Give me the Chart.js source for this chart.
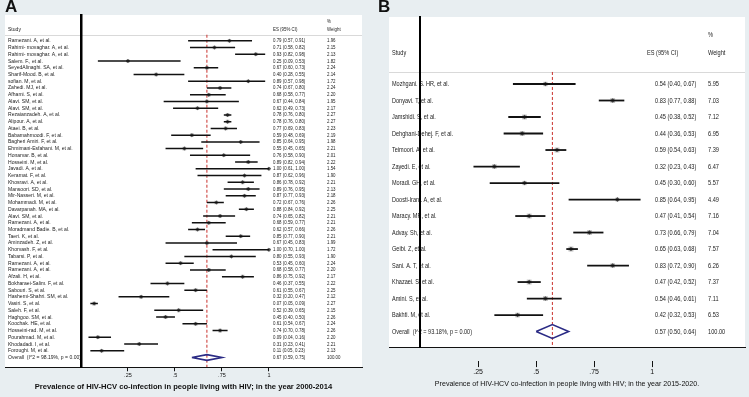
<!DOCTYPE html>
<html>
<head>
<meta charset="utf-8">
<script src="https://cdn.jsdelivr.net/npm/chart.js@4.4.1/dist/chart.umd.min.js"></script>
<style>
  html, body { margin: 0; padding: 0; background: #e8eef1; }
  body { width: 749px; height: 397px; position: relative; overflow: hidden; font-family: "Liberation Sans", Arial, sans-serif; }
  canvas { position: absolute; top: 0; }
  .letter { position: absolute; top: -3px; font-size: 17px; font-weight: bold; color: #111; z-index: 2; }
</style>
</head>
<body>
<canvas id="chartA" width="375" height="397" style="left:0"></canvas>
<canvas id="chartB" width="374" height="397" style="left:375px"></canvas>
<div class="letter" style="left:5px">A</div>
<div class="letter" style="left:378px">B</div>
<script>
// --- DATA: panel A, 2000-2014 ---
const studiesA = [
  "Ramezani. A, et al.", "Rahimi- movaghar. A, et al.", "Rahimi- movaghar. A, et al.", "Salem. F., et al.",
  "SeyedAlinaghi. SA, et al.", "Sharif-Mood. B, et al.", "sofian. M, et al.", "Zahedi. MJ, et al.",
  "Afhami. S, et al.", "Alavi. SM, et al.", "Alavi. SM, et al.", "Rezaianzadeh. A, et al.",
  "Alipour. A, et al.", "Ataei. B, et al.", "Babamahmoodi. F, et al.", "Bagheri Amiri. F, et al.",
  "Ehmimani-Esfahani. M, et al.", "Honarvar. B, et al.", "Hosseini. M, et al.", "Javadi. A, et al.",
  "Keramat. F, et al.", "Khosravi. A, et al.", "Mansoori. SD, et al.", "Mir-Nasseri. M, et al.",
  "Mohammadi. M, et al.", "Davarpanah. MA, et al.", "Alavi. SM, et al.", "Ramezani. A, et al.",
  "Moradmand Badie. B, et al.", "Taeri. K, et al.", "Aminzadeh. Z, et al.", "Khorvash. F, et al.",
  "Tabarsi. P, et al.", "Ramezani. A, et al.", "Ramezani. A, et al.", "Afzali. H, et al.",
  "Bokharaei-Salim. F, et al.", "Sabouri. S, et al.", "Hashemi-Shahri. SM, et al.", "Vasiri. S, et al.",
  "Saleh. F, et al.", "Haghgoo. SM, et al.", "Koochak. HE, et al.", "Hosseini-rad. M, et al.",
  "Pourahmad. M, et al.", "Khodadadi. I, et al.", "Foroughi. M, et al."
];
const esA = [0.79,0.71,0.93,0.25,0.67,0.40,0.89,0.74,0.68,0.67,0.62,0.78,0.78,0.77,0.59,0.85,0.55,0.76,0.89,1.00,
  0.87,0.86,0.89,0.87,0.72,0.88,0.74,0.68,0.62,0.85,0.67,1.00,0.80,0.53,0.68,0.86,0.46,0.61,0.32,0.07,
  0.52,0.45,0.61,0.74,0.09,0.31,0.11];
const loA = [0.57,0.58,0.82,0.09,0.60,0.28,0.57,0.67,0.58,0.44,0.49,0.76,0.76,0.69,0.48,0.64,0.45,0.58,0.82,0.61,
  0.62,0.78,0.76,0.77,0.67,0.84,0.65,0.59,0.57,0.77,0.45,0.70,0.55,0.45,0.58,0.75,0.37,0.55,0.20,0.05,
  0.39,0.40,0.54,0.70,0.04,0.23,0.05];
const hiA = [0.91,0.82,0.98,0.53,0.73,0.55,0.98,0.80,0.77,0.84,0.73,0.80,0.80,0.83,0.69,0.95,0.65,0.90,0.94,1.00,
  0.96,0.92,0.95,0.93,0.76,0.92,0.82,0.77,0.66,0.90,0.83,1.00,0.93,0.60,0.77,0.92,0.55,0.67,0.47,0.09,
  0.65,0.50,0.67,0.78,0.16,0.41,0.23];
const weightA = [1.96,2.15,2.13,1.82,2.24,2.14,1.72,2.24,2.20,1.95,2.17,2.27,2.27,2.23,2.19,1.98,2.21,2.01,2.22,1.54,
  1.90,2.21,2.13,2.18,2.26,2.25,2.21,2.21,2.26,2.21,1.99,1.72,1.90,2.24,2.20,2.17,2.22,2.25,2.12,2.27,
  2.15,2.26,2.24,2.26,2.20,2.21,2.13];
const overallA = [0.67, 0.59, 0.75]; // es, lo, hi
const overallLabelA = "Overall  (I^2 = 98.19%, p = 0.00)";
const titleA = "Prevalence of HIV-HCV co-infection in people living with HIV; in the year 2000-2014";

// --- DATA: panel B, 2015-2020 ---
const studiesB = [
  "Mozhgani. S. HR, et al.", "Donyavi. T, et al.", "Jamshidi. S, et al.", "Dehghani-Dehej. F, et al.",
  "Teimoori. A, et al.", "Zayedi. E, et al.", "Moradi. GH, et al.", "Doosti-Irani. A, et al.",
  "Maracy. MR, et al.", "Advay. Sh, et al.", "Geibi. Z, et al.", "Sani. A. T, et al.",
  "Khazaei. S, et al.", "Amini. S, et al.", "Bakhti. M, et al."
];
const esB = [0.54,0.83,0.45,0.44,0.59,0.32,0.45,0.85,0.47,0.73,0.65,0.83,0.47,0.54,0.42];
const loB = [0.40,0.77,0.38,0.36,0.54,0.23,0.30,0.64,0.41,0.66,0.63,0.72,0.42,0.46,0.32];
const hiB = [0.67,0.88,0.52,0.53,0.63,0.43,0.60,0.95,0.54,0.79,0.68,0.90,0.52,0.61,0.53];
const weightB = [5.95,7.03,7.12,6.95,7.39,6.47,5.57,4.49,7.16,7.04,7.57,6.26,7.37,7.11,6.53];
const overallB = [0.57, 0.50, 0.64];
const overallLabelB = "Overall  (I^2 = 93.18%, p = 0.00)";
const titleB = "Prevalence of HIV-HCV co-infection in people living with HIV; in the year 2015-2020.";

// --- AXIS TICKS ---
const tickValues = [0.25, 0.5, 0.75, 1];
const tickLabels = [".25", ".5", ".75", "1"];

const fmt = v => v.toFixed(2);

// squeezed text, the source figure uses a narrow face
function squeezeText(ctx, str, x, y, sx) {
  ctx.save();
  ctx.translate(x, y);
  ctx.scale(sx, 1);
  ctx.fillText(str, 0, 0);
  ctx.restore();
}

// --- BUILD ONE FOREST PLOT ---
function forestChart(canvasId, d, look) {
  const n = d.studies.length;
  const maxW = Math.max(...d.weight);
  const datasets = [];

  // confidence intervals
  d.studies.forEach((s, i) => {
    datasets.push({
      type: "line",
      data: [{ x: d.lo[i], y: i }, { x: d.hi[i], y: i }],
      borderColor: "#111", borderWidth: look.ciWidth, pointRadius: 0
    });
  });
  // weight boxes
  datasets.push({
    type: "scatter",
    data: d.es.map((v, i) => ({ x: v, y: i })),
    pointStyle: "rect",
    pointRadius: d.weight.map(w => look.boxR * Math.sqrt(w / maxW)),
    backgroundColor: "rgba(140,140,140,0.55)", borderWidth: 0
  });
  // point estimates
  datasets.push({
    type: "scatter",
    data: d.es.map((v, i) => ({ x: v, y: i })),
    pointStyle: "rectRot", pointRadius: look.dotR,
    backgroundColor: "#000", borderWidth: 0
  });
  // overall diamond
  const [oe, ol, oh] = d.overall;
  datasets.push({
    type: "line",
    data: [{ x: ol, y: n }, { x: oe, y: n - 0.42 }, { x: oh, y: n }, { x: oe, y: n + 0.42 }, { x: ol, y: n }],
    borderColor: "#2b2b85", borderWidth: look.diaWidth, pointRadius: 0, fill: false, tension: 0
  });
  // dashed line at overall estimate
  datasets.push({
    type: "line",
    data: [{ x: oe, y: look.sepRow }, { x: oe, y: look.yMax }],
    borderColor: "#c9302c", borderWidth: 1, borderDash: [3, 2], pointRadius: 0
  });

  // white plot region + text columns
  const textPlugin = {
    id: "forestText",
    beforeDraw(chart) {
      const { ctx, chartArea: a, scales: { y } } = chart;
      ctx.save();
      ctx.fillStyle = "#fff";
      ctx.fillRect(a.left, a.top, a.right - a.left, a.bottom - a.top);

      const sy = Math.round(y.getPixelForValue(look.sepRow)) + 0.5;
      ctx.strokeStyle = "#d9d9d9";
      ctx.lineWidth = 1;
      ctx.beginPath(); ctx.moveTo(a.left, sy); ctx.lineTo(a.right, sy); ctx.stroke();

      ctx.fillStyle = "#222";
      ctx.textBaseline = "middle";
      ctx.textAlign = "left";
      ctx.font = look.font;
      const xs = a.left + look.studyX, xe = a.left + look.esX, xw = a.left + look.wX;
      const sl = look.labelSx, se = look.esSx;

      const hy = y.getPixelForValue(look.headRow);
      squeezeText(ctx, "Study", xs, hy, sl);
      squeezeText(ctx, "ES (95% CI)", a.left + look.esHeadX, hy, se);
      squeezeText(ctx, "Weight", xw, hy, se);
      squeezeText(ctx, "%", xw, y.getPixelForValue(look.pctRow), se);

      d.studies.forEach((s, i) => {
        const py = y.getPixelForValue(i);
        squeezeText(ctx, s, xs, py, sl);
        squeezeText(ctx, `${fmt(d.es[i])} (${fmt(d.lo[i])}, ${fmt(d.hi[i])})`, xe, py, se);
        squeezeText(ctx, fmt(d.weight[i]), xw, py, se);
      });
      const oy = y.getPixelForValue(n);
      squeezeText(ctx, d.overallLabel, xs, oy, sl);
      squeezeText(ctx, `${fmt(oe)} (${fmt(ol)}, ${fmt(oh)})`, xe, oy, se);
      squeezeText(ctx, "100.00", xw, oy, se);
      ctx.restore();
    }
  };

  const tickFont = { size: look.tickSize, family: look.family };
  const titleFont = { size: look.titleSize, weight: look.titleWeight, family: look.family };

  return new Chart(document.getElementById(canvasId), {
    type: "scatter",
    data: { datasets },
    options: {
      responsive: false,
      animation: false,
      devicePixelRatio: 1,
      layout: { padding: look.padding },
      plugins: { legend: { display: false }, tooltip: { enabled: false } },
      scales: {
        // axis line at the foot of the plot region
        x: {
          type: "linear", min: look.xMin, max: look.xMax, position: "bottom",
          afterFit: ax => { ax.height = look.axisGap; },
          ticks: { display: false },
          grid: { display: false },
          border: { color: "#111", width: 1 }
        },
        // tick marks, tick labels and axis title
        x2: {
          type: "linear", min: look.xMin, max: look.xMax, position: "bottom",
          afterBuildTicks: ax => { ax.ticks = tickValues.map(v => ({ value: v })); },
          ticks: {
            callback: (v, i) => tickLabels[i],
            font: tickFont, color: "#111",
            padding: look.tickPad, maxRotation: 0, autoSkip: false
          },
          grid: { drawOnChartArea: false, drawTicks: true, tickLength: look.tickLen, color: "#111", lineWidth: 1 },
          border: { display: false },
          title: {
            display: true, text: d.title, color: "#111", font: titleFont,
            padding: { top: look.titlePad, bottom: 0 }
          }
        },
        y: {
          type: "linear", reverse: true, min: look.yMin, max: look.yMax,
          position: { x: 0 },
          ticks: { display: false },
          grid: { display: false },
          border: { color: "#000", width: look.vWidth }
        }
      }
    },
    plugins: [textPlugin]
  });
}

// --- START ---
forestChart("chartA",
  { studies: studiesA, es: esA, lo: loA, hi: hiA, weight: weightA, overall: overallA, overallLabel: overallLabelA, title: titleA },
  {
    xMin: -0.404, xMax: 1.495, yMin: -3.83, yMax: 48.45,
    sepRow: -0.9, headRow: -1.75, pctRow: -2.8,
    padding: { left: 5, right: 13, top: 15, bottom: 6 },
    studyX: 3, esX: 268, esHeadX: 268, wX: 322,
    font: "5.5px 'Liberation Sans', Arial, sans-serif",
    family: "'Liberation Sans', Arial, sans-serif",
    labelSx: 0.92, esSx: 0.8,
    ciWidth: 1.5, boxR: 2.6, dotR: 2, diaWidth: 1.6, vWidth: 2.5,
    axisGap: 0, tickSize: 5.5, tickPad: 1, tickLen: 4, titleSize: 7.6, titleWeight: "bold", titlePad: 2
  });

forestChart("chartB",
  { studies: studiesB, es: esB, lo: loB, hi: hiB, weight: weightB, overall: overallB, overallLabel: overallLabelB, title: titleB },
  {
    xMin: -0.134, xMax: 1.40, yMin: -4.06, yMax: 15.94,
    sepRow: -0.73, headRow: -1.88, pctRow: -2.97,
    padding: { left: 14, right: 4, top: 17, bottom: 9 },
    studyX: 3, esX: 266, esHeadX: 258, wX: 319,
    font: "7.5px 'Liberation Sans', Arial, sans-serif",
    family: "'Liberation Sans', Arial, sans-serif",
    labelSx: 0.74, esSx: 0.75,
    ciWidth: 1.8, boxR: 3.5, dotR: 2.3, diaWidth: 1.6, vWidth: 2,
    axisGap: 14, tickSize: 7, tickPad: 1, tickLen: 6, titleSize: 7.1, titleWeight: "normal", titlePad: 2
  });
</script>
</body>
</html>
